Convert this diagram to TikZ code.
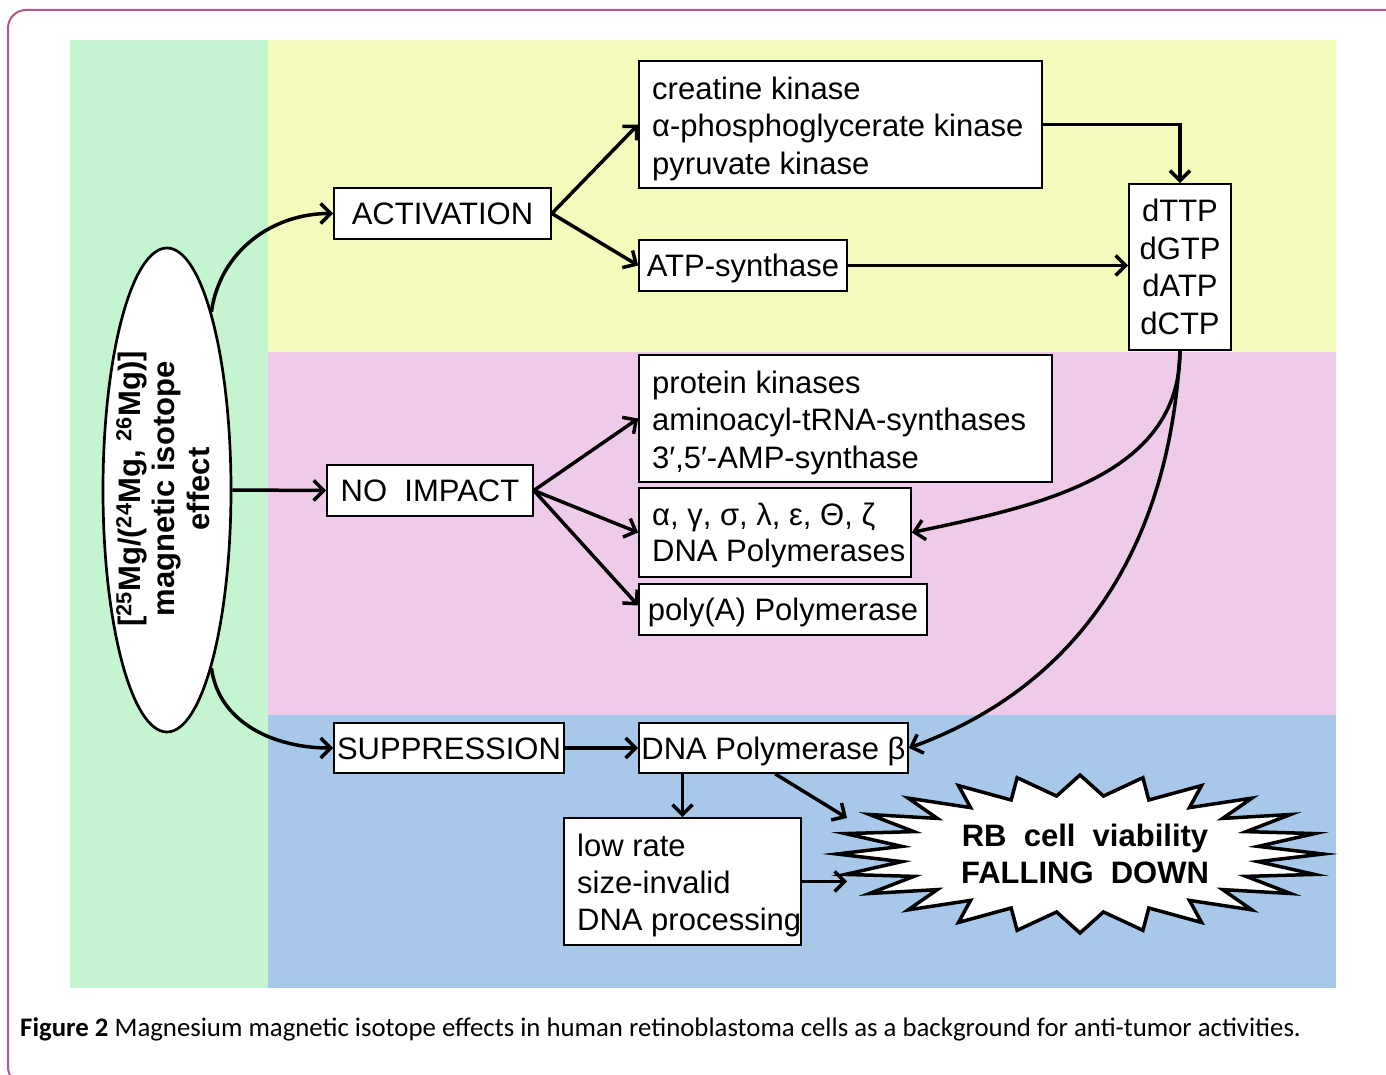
\documentclass[tikz,border=0pt]{standalone}
\usepackage{fontspec}
\setmainfont{Liberation Sans}
\newfontfamily\capfont{Carlito}
\usetikzlibrary{arrows.meta,shapes.geometric,calc}
\definecolor{frm}{RGB}{181,85,140}
\definecolor{gpan}{RGB}{196,244,208}
\definecolor{ypan}{RGB}{244,250,188}
\definecolor{ppan}{RGB}{238,204,233}
\definecolor{bpan}{RGB}{168,200,234}
\begin{document}
\begin{tikzpicture}[x=1pt,y=-1pt,
  box/.style={draw, line width=1.7pt, fill=white, inner sep=0pt, align=center,
    font=\fontsize{31}{37.5}\selectfont},
  sbox/.style={box, text height=29pt, text depth=6.8pt},
  txt/.style={inner sep=0pt, align=left, font=\fontsize{31}{37.5}\selectfont},
  arr/.style={line width=3.5pt, -{Straight Barb[length=10pt,width=20pt]}}
]
\useasboundingbox (0,0) rectangle (1386,1075);
\begin{scope}
  \clip (0,0) rectangle (1386,1075);
  \draw[frm, line width=2pt, rounded corners=18pt] (8,10) rectangle (1430,1085);
\end{scope}
% panels
\fill[gpan] (70,40) rectangle (268,988);
\fill[ypan] (268,40) rectangle (1336,352);
\fill[ppan] (268,352) rectangle (1336,715);
\fill[bpan] (268,715) rectangle (1336,988);

% ellipse
\node[draw, ellipse, line width=2.7pt, fill=white, minimum width=128, minimum height=484, inner sep=0pt] (ell) at (167,490) {};
\node[rotate=90, align=center, inner sep=0pt, font=\bfseries\fontsize{31}{34.5}\selectfont] (elltext) at (163,489)
  {[\textsuperscript{25}Mg/(\textsuperscript{24}Mg, \textsuperscript{26}Mg)]\\magnetic isotope\\effect};

% boxes
\node[sbox, minimum width=217, minimum height=51] (act) at (442.5,213.5) {ACTIVATION};
\node[box, minimum width=403, minimum height=127] (cre) at (840.5,124.5) {};
\node[txt, anchor=west] (creT) at (652,128.5)
  {creatine kinase\\α-phosphoglycerate kinase\\pyruvate kinase};
\node[sbox, minimum width=208, minimum height=51] (atp) at (743,265.5) {ATP-synthase};
\node[box, minimum width=102, minimum height=166] (dttp) at (1180,267) {dTTP\\dGTP\\dATP\\dCTP};
\node[sbox, minimum width=206, minimum height=51] (noimp) at (430,490.5) {NO\ \ IMPACT};
\node[box, minimum width=413, minimum height=127] (pk) at (845.5,418.5) {};
\node[txt, anchor=west] (pkT) at (652,422.5)
  {protein kinases\\aminoacyl-tRNA-synthases\\3′,5′-AMP-synthase};
\node[box, minimum width=272, minimum height=89] (alpha) at (775,532.5) {};
\node[txt, anchor=west, font=\fontsize{31}{36}\selectfont] (alphaT) at (652,535.5)
  {α, γ, σ, λ, ε, Θ, ζ\\DNA Polymerases};
\node[sbox, minimum width=288, minimum height=51] (polya) at (783,609.5) {poly(A) Polymerase};
\node[sbox, minimum width=230, minimum height=50] (supp) at (449,748) {SUPPRESSION};
\node[sbox, minimum width=269, minimum height=50] (polb) at (773.5,748) {DNA Polymerase β};
\node[box, minimum width=237, minimum height=127] (low) at (682.5,881.5) {};
\node[txt, anchor=west, font=\fontsize{31}{37}\selectfont] (lowT) at (577,885)
  {low rate\\size-invalid\\DNA processing};

% starburst
\draw[line width=3.5pt, fill=white, line join=miter, miter limit=12] (1323,854)
  \foreach \k [evaluate=\k as \r using {(mod(\k,2)==0) ? 1 : 0.74}] in {1,...,47} {
    -- ({1080+243*\r*cos(7.5*\k)},{854-79*\r*sin(7.5*\k)}) } -- cycle;
\node[align=center, inner sep=0pt, font=\bfseries\fontsize{31}{37}\selectfont] (sbt) at (1085,854)
  {RB\ \ cell\ \ viability\\FALLING\ \ DOWN};
\coordinate (sbA) at (847,818);
\coordinate (sbB) at (847,881.5);

% connectors
\draw[arr] (ell.76) to[out=82,in=180] (act.west);
\draw[arr] (ell.east) -- (noimp.west);
\draw[arr] (ell.-76) to[out=-82,in=180] (supp.west);
\draw[arr] (act.east) -- (cre.west);
\draw[arr] (act.east) -- (atp.west);
\draw[arr] (cre.east) -| (dttp.north);
\draw[arr] (atp.east) -- (atp.east -| dttp.west);
\draw[arr] (dttp.south) to[out=-90,in=12] (alpha.east);
\draw[arr] (dttp.south) to[out=-93,in=20] (polb.east);
\draw[arr] (noimp.east) -- (pk.west);
\draw[arr] (noimp.east) -- (alpha.west);
\draw[arr] (noimp.east) -- ($(polya.west)+(0,-4)$);
\draw[arr] (supp.east) -- (polb.west);
\draw[arr] (low.north |- polb.south) -- (low.north);
\draw[arr] ($(polb.south west)!0.506!(polb.south east)$) -- (sbA);
\draw[arr] (low.east) -- (sbB);

% caption
\node[anchor=base west, inner sep=0pt, font=\capfont\fontsize{26.8}{30}\selectfont] (cap) at (20,1036)
  {\textbf{Figure 2} Magnesium magnetic isotope effects in human retinoblastoma cells as a background for anti-tumor activities.};
\end{tikzpicture}
\end{document}
